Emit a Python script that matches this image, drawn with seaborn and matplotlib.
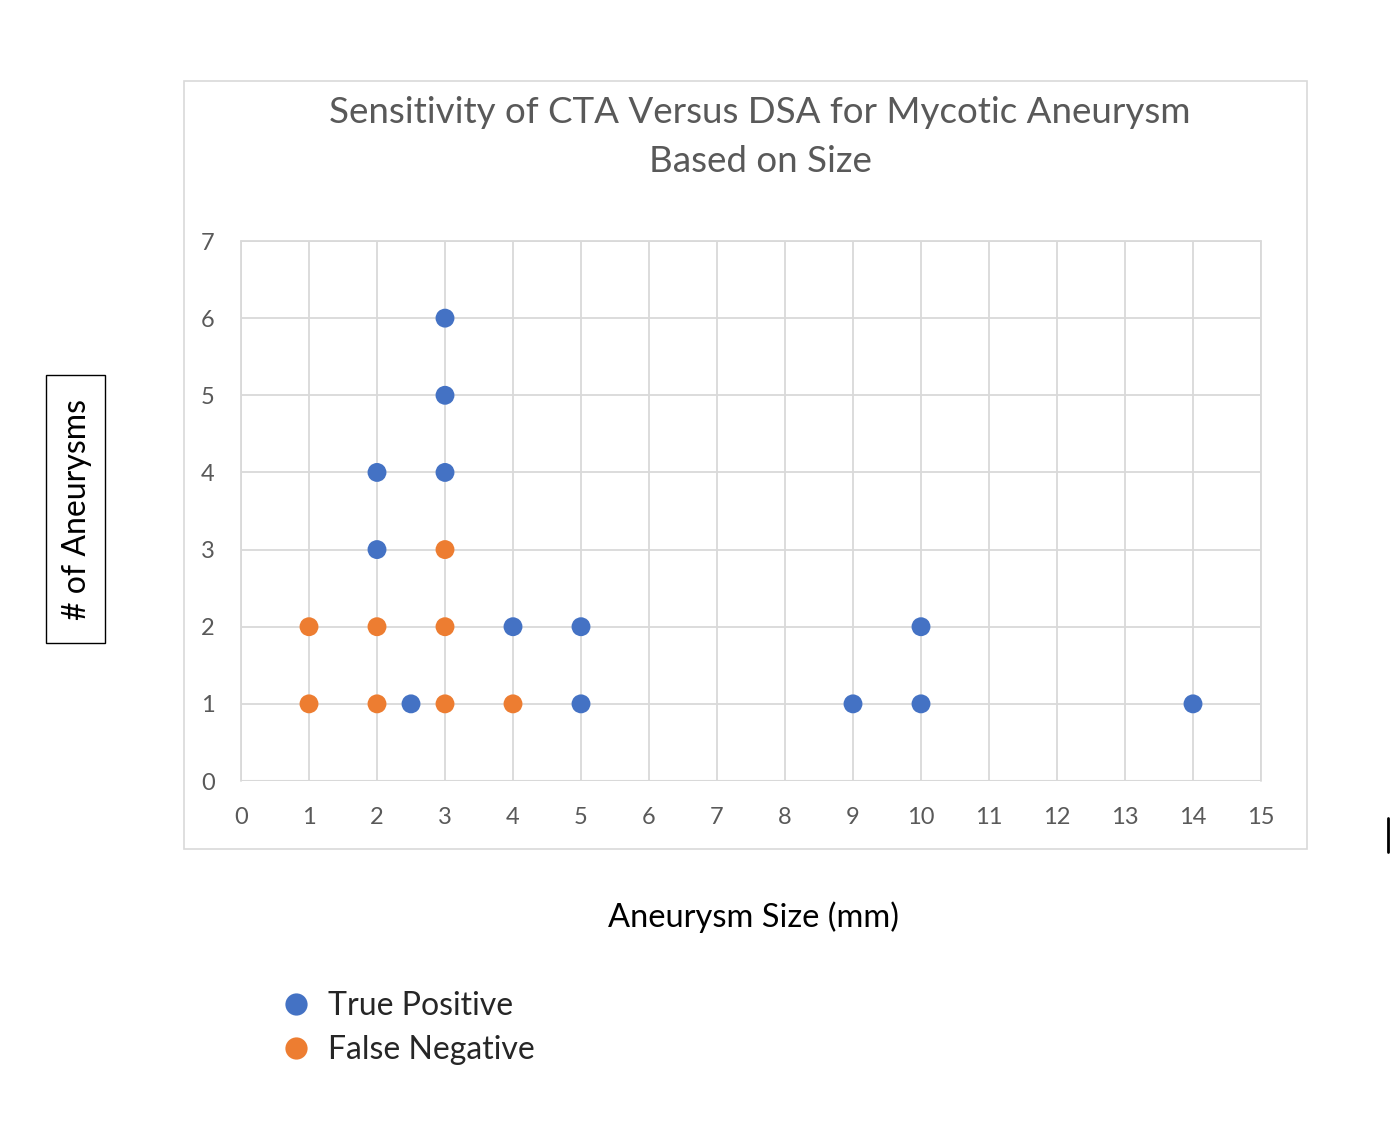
import matplotlib
matplotlib.use("Agg")
import matplotlib.pyplot as plt
import seaborn as sns
import pandas as pd
from matplotlib.patches import Rectangle
from matplotlib.lines import Line2D

tp_size = [2, 2, 3, 3, 3, 2.5, 4, 5, 5, 9, 10, 10, 14]
tp_count = [4, 3, 6, 5, 4, 1, 2, 2, 1, 1, 2, 1, 1]
fn_size = [1, 1, 2, 2, 3, 3, 3, 4]
fn_count = [2, 1, 2, 1, 3, 2, 1, 1]
series_names = ["True Positive", "False Negative"]
colors = ["#4472C4", "#ED7D31"]
x_ticks = list(range(0, 16))
y_ticks = list(range(0, 8))

df = pd.DataFrame({
    "size": tp_size + fn_size,
    "count": tp_count + fn_count,
    "series": [series_names[0]] * len(tp_size) + [series_names[1]] * len(fn_size),
})

sns.set_theme(style="white")
plt.rcParams["font.family"] = ["Lato", "DejaVu Sans"]

fig = plt.figure(figsize=(13.94, 11.24), dpi=100)
ax = fig.add_axes([241 / 1394, 1 - 781 / 1124, (1261 - 241) / 1394, (781 - 241) / 1124])

# chart area border
fig.patches.append(Rectangle((184 / 1394, 1 - 849 / 1124), (1307 - 184) / 1394, (849 - 81) / 1124,
                             transform=fig.transFigure, fill=False, edgecolor="#d9d9d9", lw=1.2, zorder=0))

sns.scatterplot(data=df, x="size", y="count", hue="series", palette=colors,
                s=185, edgecolor="none", ax=ax, legend=False, zorder=3)

ax.set_xlim(0, 15)
ax.set_ylim(0, 7)
ax.set_xticks(x_ticks)
ax.set_yticks(y_ticks)
ax.grid(True, color="#d9d9d9", lw=1.3)
for s in ax.spines.values():
    s.set_visible(False)
ax.axhline(0, color="#d9d9d9", lw=1.5, zorder=1)
ax.axhline(7, color="#d9d9d9", lw=1.3, zorder=1, clip_on=False)
ax.axvline(15, color="#d9d9d9", lw=1.3, zorder=1, clip_on=False)
ax.axvline(0, color="#d9d9d9", lw=1.3, zorder=1, clip_on=False)
ax.tick_params(axis="both", length=0, labelsize=17, colors="#595959")
ax.tick_params(axis="x", pad=19)
ax.tick_params(axis="y", pad=19)
ax.set_xlabel("")
ax.set_ylabel("")

fig.text(760 / 1394, 1 - 137 / 1124, "Sensitivity of CTA Versus DSA for Mycotic Aneurysm\nBased on Size",
         ha="center", va="center", fontsize=26.5, color="#595959", linespacing=1.6)

fig.text(753 / 1394, 1 - 917 / 1124, "Aneurysm Size (mm)", ha="center", va="center",
         fontsize=23.5, color="black")

fig.text(77 / 1394, 1 - 510 / 1124, "# of Aneurysms", ha="center", va="center", rotation=90,
         fontsize=23, color="black")
fig.patches.append(Rectangle((46 / 1394, 1 - 643 / 1124), 59 / 1394, 268 / 1124,
                             transform=fig.transFigure, fill=False, edgecolor="black", lw=1.0))

# small stray line at right edge
fig.lines.append(Line2D([1388 / 1394, 1388 / 1394], [1 - 852 / 1124, 1 - 818 / 1124],
                        transform=fig.transFigure, color="black", lw=2))

handles = [Line2D([], [], marker="o", ls="none", markersize=16, markerfacecolor=c, markeredgecolor="none")
           for c in colors]
fig.legend(handles, series_names, loc="upper left", bbox_to_anchor=(251 / 1394, 1 - 962 / 1124),
           frameon=False, fontsize=23, handletextpad=0.5, labelspacing=0.45, handlelength=1.0)

fig.savefig("out.png", dpi=100)
